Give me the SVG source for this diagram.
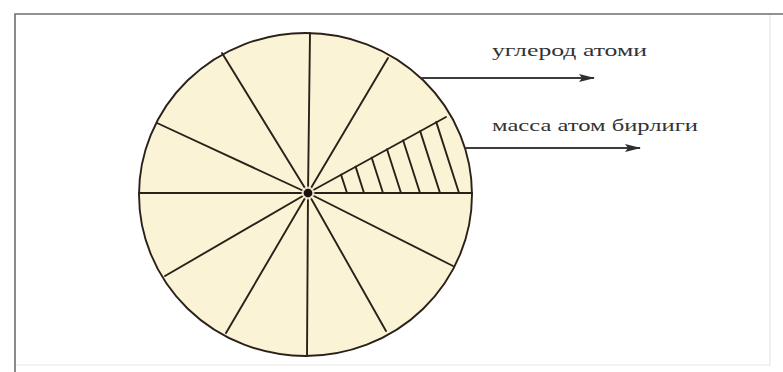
<svg xmlns="http://www.w3.org/2000/svg" width="783" height="372" viewBox="0 0 783 372">
<defs>
<style>
.frame{stroke:#6e6e6e;stroke-width:1.6;fill:none}
.faint{stroke:#e6e6e6;stroke-width:1.2;fill:none}
.ln{stroke:#2a2119;stroke-width:1.9;fill:none;stroke-linecap:round}
.arr{stroke:#3c3c3c;stroke-width:2;fill:none}
.lbl{font-family:"Liberation Serif","DejaVu Serif",serif;font-size:17px;fill:#333333}
</style>
<marker id="ah" viewBox="0 0 16 8" refX="15" refY="4" markerWidth="16" markerHeight="8" markerUnits="userSpaceOnUse" orient="auto">
<path d="M0,0 L16,4 L0,8 L3,4 Z" fill="#2e2e2e"/>
</marker>
</defs>
<rect width="783" height="372" fill="#ffffff"/>
<g id="frame">
<path class="faint" d="M770,14 V365 H15"/>
<path class="frame" d="M15,372 V14 H783"/>
</g>
<g id="circle">
<ellipse cx="305.5" cy="194.5" rx="166.5" ry="161.5" fill="#fbf3d6" stroke="#2a2119" stroke-width="1.9"/>
<g id="spokes">
<line class="ln" x1="308" y1="193" x2="310" y2="33"/>
<line class="ln" x1="308" y1="193" x2="388" y2="58"/>
<line class="ln" x1="308" y1="193" x2="446" y2="117"/>
<line class="ln" x1="308" y1="193" x2="472" y2="193"/>
<line class="ln" x1="308" y1="193" x2="453" y2="266"/>
<line class="ln" x1="308" y1="193" x2="386" y2="331"/>
<line class="ln" x1="308" y1="193" x2="307" y2="356"/>
<line class="ln" x1="308" y1="193" x2="226" y2="333"/>
<line class="ln" x1="308" y1="193" x2="165" y2="276"/>
<line class="ln" x1="308" y1="193" x2="139" y2="193"/>
<line class="ln" x1="308" y1="193" x2="157" y2="123"/>
<line class="ln" x1="308" y1="193" x2="222" y2="53"/>
</g>
<g id="hatch">
<line class="ln" x1="341" y1="174.6" x2="347" y2="193"/>
<line class="ln" x1="355.6" y1="166.6" x2="364" y2="193"/>
<line class="ln" x1="371.7" y1="157.7" x2="383" y2="193"/>
<line class="ln" x1="387" y1="149.2" x2="401" y2="193"/>
<line class="ln" x1="403.1" y1="140.3" x2="420" y2="193"/>
<line class="ln" x1="420.1" y1="130.9" x2="440" y2="193"/>
<line class="ln" x1="436.2" y1="121.9" x2="459" y2="193"/>
</g>
<circle cx="308" cy="193" r="6.5" fill="#fbf3d6" opacity="0.85"/>
<circle cx="308" cy="193" r="4.3" fill="#1a1210"/>
</g>
<g id="connectors">
<line class="arr" x1="421" y1="78" x2="594" y2="78" marker-end="url(#ah)"/>
<line class="arr" x1="465" y1="148" x2="640" y2="148" marker-end="url(#ah)"/>
</g>
<g id="label-carbon">
<text class="lbl" x="492" y="56" textLength="155" lengthAdjust="spacingAndGlyphs">углерод атоми</text>
</g>
<g id="label-amu">
<text class="lbl" x="492" y="131" textLength="206" lengthAdjust="spacingAndGlyphs">масса атом бирлиги</text>
</g>
</svg>
